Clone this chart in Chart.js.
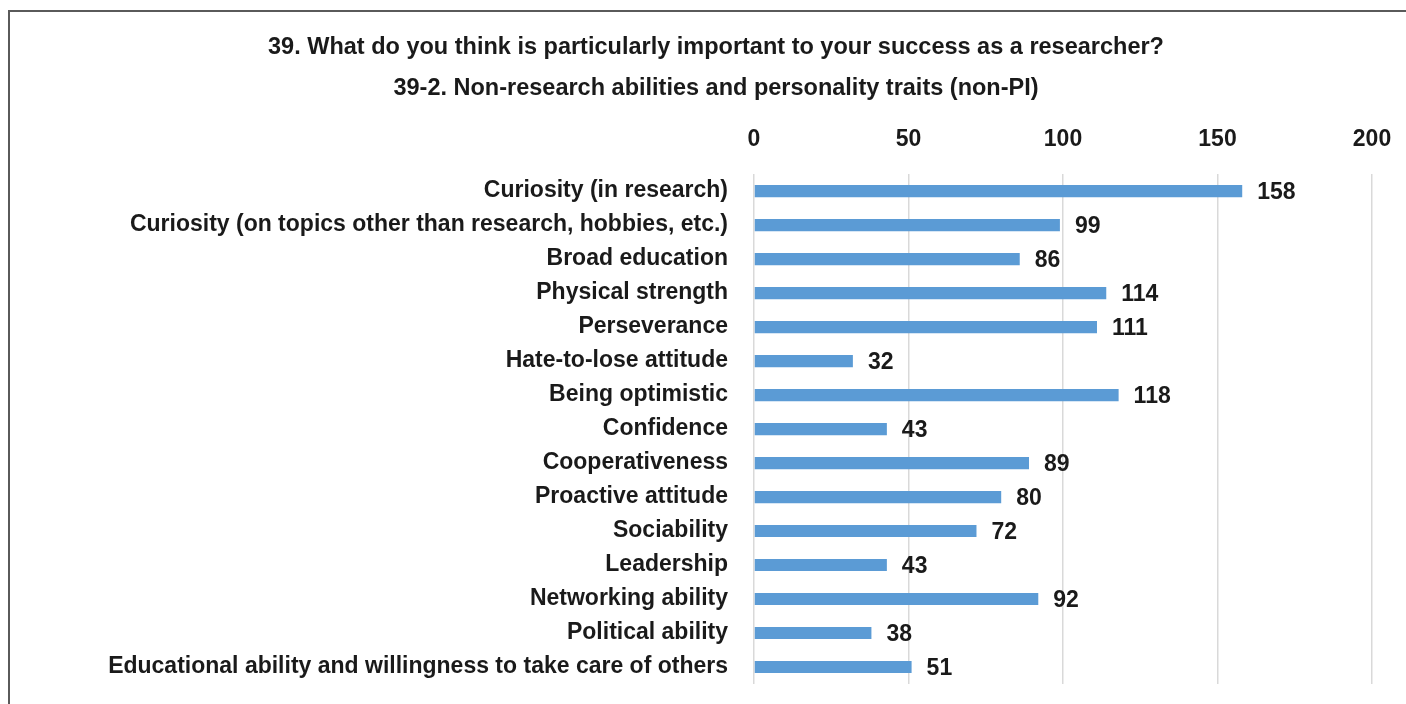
<!DOCTYPE html>
<html>
<head>
<meta charset="utf-8">
<script src="https://cdn.jsdelivr.net/npm/chart.js@4/dist/chart.umd.min.js"></script>
<style>
  html, body { margin: 0; padding: 0; background: #fff; overflow: hidden; }
  #wrap { position: absolute; left: 0; top: 0; width: 1406px; height: 704px; }
  #frame { position: absolute; left: 8px; top: 10px; width: 1420px; height: 720px;
           border-left: 2px solid #5a5a5a; border-top: 2px solid #5a5a5a; pointer-events: none; }
</style>
</head>
<body>
<div id="wrap"><canvas id="c" width="1406" height="704"></canvas></div>
<div id="frame"></div>
<script>
const titleLines = [
  "39. What do you think is particularly important to your success as a researcher?",
  "39-2. Non-research abilities and personality traits (non-PI)"
];
const categories = [
  "Curiosity (in research)",
  "Curiosity (on topics other than research, hobbies, etc.)",
  "Broad education",
  "Physical strength",
  "Perseverance",
  "Hate-to-lose attitude",
  "Being optimistic",
  "Confidence",
  "Cooperativeness",
  "Proactive attitude",
  "Sociability",
  "Leadership",
  "Networking ability",
  "Political ability",
  "Educational ability and willingness to take care of others"
];
const counts = [158, 99, 86, 114, 111, 32, 118, 43, 89, 80, 72, 43, 92, 38, 51];
const xTicks = [0, 50, 100, 150, 200];

const FONT = "'Liberation Sans', Arial, sans-serif";
const TEXT = "#1a1a1a";

const valueLabels = {
  id: 'valueLabels',
  afterDatasetsDraw(chart) {
    const ctx = chart.ctx;
    const meta = chart.getDatasetMeta(0);
    ctx.save();
    ctx.font = "bold 23px " + FONT;
    ctx.fillStyle = TEXT;
    ctx.textAlign = 'left';
    ctx.textBaseline = 'middle';
    meta.data.forEach((bar, i) => {
      ctx.fillText(String(counts[i]), bar.x + 15, bar.y + 2);
    });
    ctx.restore();
  }
};

new Chart(document.getElementById('c'), {
  type: 'bar',
  data: {
    labels: categories,
    datasets: [{
      data: counts,
      backgroundColor: '#5b9bd5',
      borderWidth: 0,
      categoryPercentage: 1.0,
      barPercentage: 0.36
    }]
  },
  options: {
    indexAxis: 'y',
    responsive: false,
    animation: false,
    layout: { padding: { top: 10, left: 60, right: 34, bottom: 20 } },
    plugins: {
      legend: { display: false },
      tooltip: { enabled: false },
      title: {
        display: true,
        text: titleLines,
        color: TEXT,
        font: { family: FONT, size: 23.5, weight: 'bold', lineHeight: 1.745 },
        padding: { top: 17, bottom: 15 }
      }
    },
    scales: {
      x: {
        position: 'top',
        min: 0,
        max: 200,
        afterBuildTicks(scale) { scale.ticks = xTicks.map(v => ({ value: v })); },
        afterFit(scale) {
          scale.height = 50;
          scale.paddingLeft = 0;
          scale.paddingRight = 0;
        },
        ticks: {
          color: TEXT,
          padding: 21,
          font: { family: FONT, size: 23, weight: 'bold' }
        },
        grid: { color: '#d9d9d9', lineWidth: 1.5, drawTicks: false },
        border: { display: false }
      },
      y: {
        afterFit(scale) {
          scale.width = 754 - 60;
          scale.paddingTop = 0;
          scale.paddingBottom = 0;
        },
        ticks: {
          color: TEXT,
          padding: 26,
          font: { family: FONT, size: 23, weight: 'bold' }
        },
        grid: { display: false, drawTicks: false },
        border: { display: false }
      }
    }
  },
  plugins: [valueLabels]
});
</script>
</body>
</html>
